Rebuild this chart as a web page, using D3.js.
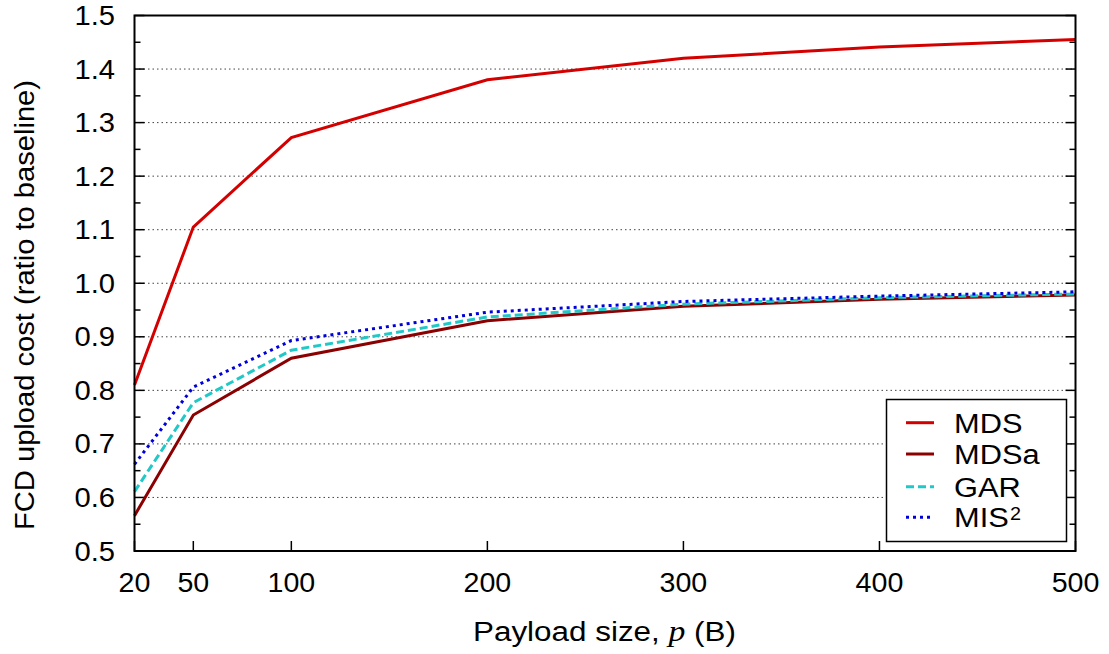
<!DOCTYPE html>
<html><head><meta charset="utf-8">
<script src="https://cdn.jsdelivr.net/npm/d3@7"></script>
<style>body{margin:0;background:#fff}text{font-family:"Liberation Sans",Arial,sans-serif;fill:#000}</style>
</head><body><svg id="c" width="1109" height="654"></svg>
<script>
const payload = [20, 50, 100, 200, 300, 400, 500];
const mds  = [0.810, 1.105, 1.272, 1.380, 1.420, 1.441, 1.455];
const mdsa = [0.566, 0.754, 0.860, 0.930, 0.957, 0.970, 0.978];
const gar  = [0.611, 0.777, 0.875, 0.937, 0.961, 0.973, 0.980];
const mis2 = [0.662, 0.806, 0.893, 0.946, 0.966, 0.976, 0.984];
const xTicks = [20, 50, 100, 200, 300, 400, 500];
const yTicks = [0.5,0.6,0.7,0.8,0.9,1.0,1.1,1.2,1.3,1.4,1.5];
const yMinor = [0.55,0.65,0.75,0.85,0.95,1.05,1.15,1.25,1.35,1.45];
const seriesNames = ["MDS","MDSa","GAR","MIS"];
const series = [
  {name:"MDS", vals:mds, color:"#d40000", dash:null},
  {name:"MDSa", vals:mdsa, color:"#8b0000", dash:null},
  {name:"GAR", vals:gar, color:"#20c8c8", dash:"8,4"},
  {name:"MIS", vals:mis2, color:"#0000dd", dash:"3,4"}
];
const L=134.5, R=1075.5, T=15.5, B=551;
const svg = d3.select("#c");
const x = d3.scaleLinear().domain([20,500]).range([L,R]);
const y = d3.scaleLinear().domain([0.5,1.5]).range([B,T]);
const FS = 27;

// grid
svg.append("g").selectAll("line").data(yTicks.filter(v=>v>0.55&&v<1.45)).join("line")
  .attr("x1",L).attr("x2",R).attr("y1",d=>y(d)).attr("y2",d=>y(d))
  .attr("stroke","#444").attr("stroke-width",1).attr("stroke-dasharray","1.5,3");

// ticks left/right
const tk = svg.append("g").attr("stroke","#000").attr("stroke-width",1.5);
yTicks.forEach(v=>{
  tk.append("line").attr("x1",L).attr("x2",L+10).attr("y1",y(v)).attr("y2",y(v));
  tk.append("line").attr("x1",R).attr("x2",R-10).attr("y1",y(v)).attr("y2",y(v));
});
yMinor.forEach(v=>{
  tk.append("line").attr("x1",L).attr("x2",L+6).attr("y1",y(v)).attr("y2",y(v));
  tk.append("line").attr("x1",R).attr("x2",R-6).attr("y1",y(v)).attr("y2",y(v));
});
xTicks.forEach(v=>{
  tk.append("line").attr("x1",x(v)).attr("x2",x(v)).attr("y1",B).attr("y2",B-10);
});

// lines
const line = d3.line().x((d,i)=>x(payload[i])).y(d=>y(d));
series.forEach(s=>{
  svg.append("path").datum(s.vals).attr("d",line).attr("fill","none")
    .attr("stroke",s.color).attr("stroke-width",3).attr("stroke-linejoin","miter")
    .attr("stroke-dasharray",s.dash);
});

// frame
svg.append("rect").attr("x",L).attr("y",T).attr("width",R-L).attr("height",B-T)
  .attr("fill","none").attr("stroke","#000").attr("stroke-width",2);

// tick labels
svg.append("g").selectAll("text").data(yTicks).join("text")
  .attr("transform",d=>`translate(115,${y(d)+9.5}) scale(1.08,1)`)
  .attr("text-anchor","end").attr("font-size",FS).text(d=>d.toFixed(1));
svg.append("g").selectAll("text").data(xTicks).join("text")
  .attr("transform",d=>`translate(${x(d)},592) scale(1.06,1)`)
  .attr("text-anchor","middle").attr("font-size",FS).text(d=>d);

// axis titles
const xt = svg.append("text").attr("x",473).attr("y",641).attr("font-size",FS)
  .attr("textLength",263).attr("lengthAdjust","spacingAndGlyphs");
xt.append("tspan").text("Payload size, ");
xt.append("tspan").attr("font-family","Liberation Serif, Times New Roman, serif").attr("font-style","italic").attr("font-size",FS+2).text("p");
xt.append("tspan").text(" (B)");
svg.append("text").attr("transform","translate(34,305) rotate(-90)")
  .attr("text-anchor","middle").attr("font-size",FS)
  .attr("textLength",450).attr("lengthAdjust","spacingAndGlyphs")
  .text("FCD upload cost (ratio to baseline)");

// legend
const lg = svg.append("g");
lg.append("rect").attr("x",886.5).attr("y",399.5).attr("width",180).attr("height",142)
  .attr("fill","#fff").attr("stroke","#000").attr("stroke-width",1.5);
const rows=[422.7,454,486.7,517.3];
series.forEach((s,i)=>{
  lg.append("line").attr("x1",906).attr("x2",934).attr("y1",rows[i]).attr("y2",rows[i])
    .attr("stroke",s.color).attr("stroke-width",3).attr("stroke-dasharray",s.dash);
  lg.append("text").attr("transform",`translate(954,${rows[i]+10}) scale(1.1,1)`).attr("font-size",28).text(s.name);
  if(s.name==="MIS") lg.append("text").attr("transform",`translate(1010,${rows[i]+2.2}) scale(1.1,1)`).attr("font-size",18).text("2");
});
</script></body></html>
